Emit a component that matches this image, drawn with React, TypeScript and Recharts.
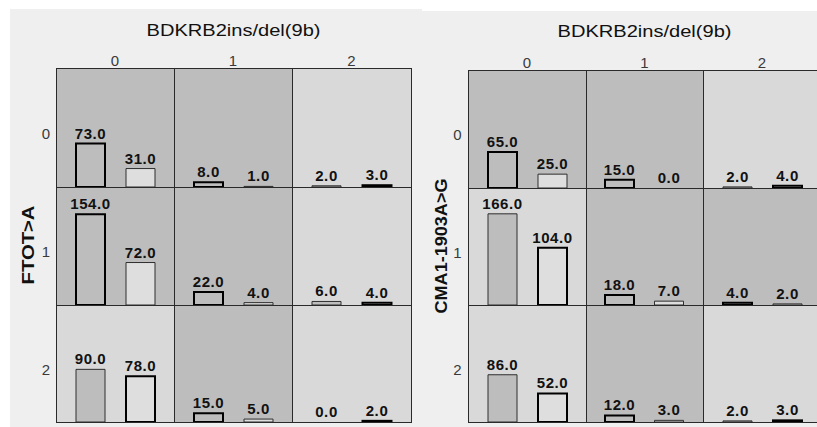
import React from 'react';
import { BarChart, Bar, XAxis, YAxis, Cell, LabelList } from 'recharts';

// ---- data ----
const columnCategories = ['0', '1', '2'];
const rowCategories = ['0', '1', '2'];
const barCategories = ['a', 'b'];
const columnTitle = 'BDKRB2ins/del(9b)';
const leftRowTitle = 'FTOT>A';
const rightRowTitle = 'CMA1-1903A>G';

// values[row][col]
const leftFirst = [
  [73, 8, 2],
  [154, 22, 6],
  [90, 15, 0],
];
const leftSecond = [
  [31, 1, 3],
  [72, 4, 4],
  [78, 5, 2],
];
const leftClass = [
  [0, 0, 1],
  [0, 0, 1],
  [1, 0, 1],
];
const rightFirst = [
  [65, 15, 2],
  [166, 18, 4],
  [86, 12, 2],
];
const rightSecond = [
  [25, 0, 4],
  [104, 7, 2],
  [52, 3, 3],
];
const rightClass = [
  [0, 0, 1],
  [1, 0, 0],
  [1, 0, 1],
];
const leftMax = 200;
const rightMax = 213;

// ---- style ----
const PAGE_BG = '#efefef';
const DARK = '#bdbdbd';
const LIGHT = '#d9d9d9';
const DARK_BAR = '#bdbdbd';
const LIGHT_BAR = '#dedede';
const LINE = '#2a2a2a';
const FONT = '"Liberation Sans", Arial, Helvetica, sans-serif';

type PanelProps = {
  colLines: number[];
  rowLines: number[];
  first: number[][];
  second: number[][];
  cls: number[][];
  max: number;
};

function CellChart({ w, h, a, b, c, max }: { w: number; h: number; a: number; b: number; c: number; max: number }) {
  const data = barCategories.map((k, i) => ({ k, v: i === 0 ? a : b }));
  return (
    <BarChart width={w} height={h} data={data} margin={{ top: 0, right: 9, bottom: 0, left: 9 }} barSize={29}>
      <XAxis dataKey="k" type="category" hide />
      <YAxis type="number" domain={[0, max]} hide />
      <Bar dataKey="v" isAnimationActive={false} minPointSize={(v: any) => (Number(v) === 0 ? 0.01 : 0)}>
        {data.map((d, i) => (
          <Cell
            key={d.k}
            fill={i === 0 ? DARK_BAR : LIGHT_BAR}
            stroke={d.v === 0 ? 'none' : i === c ? '#000000' : '#2e2e2e'}
            strokeWidth={i === c ? 2 : 1}
          />
        ))}
        <LabelList
          dataKey="v"
          position="top"
          offset={5}
          formatter={(v: any) => Number(v).toFixed(1)}
          fill="#111111"
          fontSize={15}
          fontWeight="bold"
          fontFamily={FONT}
          style={{ letterSpacing: '0.6px' }}
        />
      </Bar>
    </BarChart>
  );
}

function Panel({ colLines, rowLines, first, second, cls, max }: PanelProps) {
  const cells: React.ReactNode[] = [];
  for (let r = 0; r < 3; r++) {
    for (let col = 0; col < 3; col++) {
      const x = colLines[col];
      const y = rowLines[r];
      const w = colLines[col + 1] - x;
      const h = rowLines[r + 1] - y;
      cells.push(
        <div
          key={`${r}-${col}`}
          style={{ position: 'absolute', left: x, top: y, width: w, height: h, background: cls[r][col] === 0 ? DARK : LIGHT }}
        >
          <CellChart w={w} h={h} a={first[r][col]} b={second[r][col]} c={cls[r][col]} max={max} />
        </div>
      );
    }
  }
  return <>{cells}</>;
}

const leftCols = [56, 174, 292, 411];
const leftRows = [68, 187, 305, 422];
const rightCols = [468, 586, 703, 821];
const rightRows = [70, 188, 305, 422];

function GridLines({ cols, rows }: { cols: number[]; rows: number[] }) {
  return (
    <g stroke={LINE} strokeWidth={1} shapeRendering="crispEdges">
      {cols.map((x, i) => (
        <line key={`v${i}`} x1={x + 0.5} x2={x + 0.5} y1={rows[0]} y2={rows[3] + 1} />
      ))}
      {rows.map((y, i) => (
        <line key={`h${i}`} x1={cols[0]} x2={cols[3] + 1} y1={y + 0.5} y2={y + 0.5} />
      ))}
    </g>
  );
}

function Labels({ cols, rows, titleY, tickY, rowTitle, rowTitleX, rowTitleLen, rowTickX }: any) {
  const cx = (cols[0] + cols[3]) / 2;
  const cy = (rows[0] + rows[3]) / 2;
  return (
    <g fontFamily={FONT}>
      <text x={cx} y={titleY} textAnchor="middle" fontSize={17} fill="#111111" textLength={174} lengthAdjust="spacingAndGlyphs">
        {columnTitle}
      </text>
      {columnCategories.map((c, i) => (
        <text key={c} x={(cols[i] + cols[i + 1]) / 2} y={tickY} textAnchor="middle" fontSize={15} fill="#3a3a3a">
          {c}
        </text>
      ))}
      {rowCategories.map((c, i) => (
        <text key={c} x={rowTickX} y={(rows[i] + rows[i + 1]) / 2 + 11} textAnchor="middle" fontSize={15} fill="#3a3a3a">
          {c}
        </text>
      ))}
      <text
        x={0}
        y={0}
        transform={`translate(${rowTitleX},${cy}) rotate(-90)`}
        textAnchor="middle"
        fontSize={17}
        fontWeight="bold"
        fill="#111111"
        textLength={rowTitleLen}
        lengthAdjust="spacingAndGlyphs"
      >
        {rowTitle}
      </text>
    </g>
  );
}

export default function App() {
  return (
    <div style={{ position: 'absolute', left: 0, top: 0, width: 817, height: 427, overflow: 'hidden', background: '#ffffff' }}>
      <svg width={817} height={427} style={{ position: 'absolute', left: 0, top: 0 }}>
        <rect x={10} y={9} width={412} height={418} fill={PAGE_BG} />
        <rect x={422} y={11} width={395} height={416} fill={PAGE_BG} />
        <Labels cols={leftCols} rows={leftRows} titleY={35.5} tickY={66} rowTitle={leftRowTitle} rowTitleX={34} rowTitleLen={79} rowTickX={46} />
        <Labels cols={rightCols} rows={rightRows} titleY={37} tickY={68} rowTitle={rightRowTitle} rowTitleX={447} rowTitleLen={135} rowTickX={457.5} />
      </svg>
      <Panel colLines={leftCols} rowLines={leftRows} first={leftFirst} second={leftSecond} cls={leftClass} max={leftMax} />
      <Panel colLines={rightCols} rowLines={rightRows} first={rightFirst} second={rightSecond} cls={rightClass} max={rightMax} />
      <svg width={817} height={427} style={{ position: 'absolute', left: 0, top: 0, pointerEvents: 'none' }}>
        <GridLines cols={leftCols} rows={leftRows} />
        <GridLines cols={rightCols} rows={rightRows} />
      </svg>
    </div>
  );
}
